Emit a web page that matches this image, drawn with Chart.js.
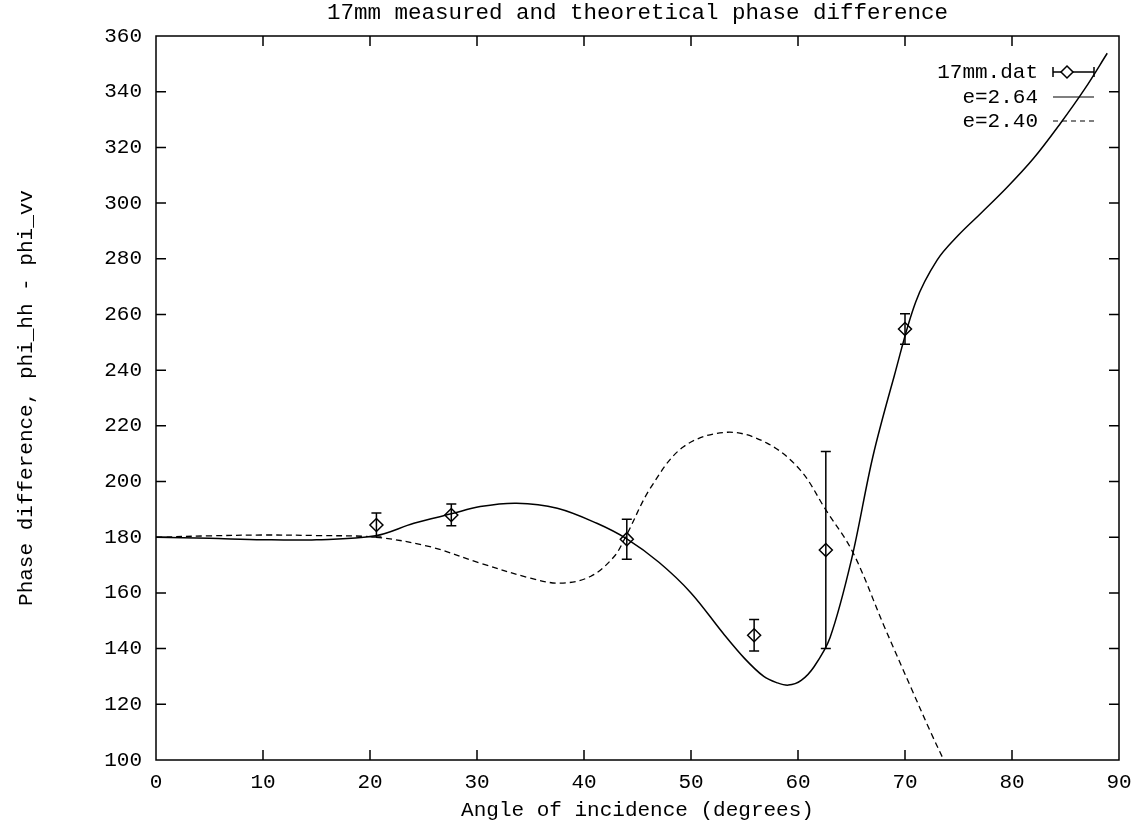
<!DOCTYPE html>
<html>
<head>
<meta charset="utf-8">
<title>17mm measured and theoretical phase difference</title>
<script src="https://cdn.jsdelivr.net/npm/chart.js@4/dist/chart.umd.min.js"></script>
<style>
  html, body { margin: 0; padding: 0; background: #fff; }
  #wrap { width: 1146px; height: 825px; }
</style>
</head>
<body>
<div id="wrap"><canvas id="chart" width="1146" height="825"></canvas></div>
<script>
// measured points (17mm.dat) with error
const ptX = [20.6, 27.6, 44.0, 55.9, 62.6, 70.0];
const ptY = [184.4, 188.0, 179.3, 144.8, 175.4, 254.8];
const ptErr = [4.3, 3.9, 7.2, 5.7, 35.4, 5.5];

// theory e=2.64 (solid)
const solidX = [0, 5, 10, 15, 20.5, 24.1, 27.6, 30.3, 33.7, 37.5, 41.2, 44.0, 47.0, 50.0, 53.0, 55.0, 56.8, 58.0, 59.1, 60.3, 61.5, 63.0, 65.0, 67.0, 69.0, 71.0, 73.0, 75.0, 77.0, 79.5, 82.0, 84.5, 86.8, 88.9];
const solidY = [180, 179.6, 179.1, 179.1, 180.5, 185.0, 188.4, 191.0, 192.2, 190.4, 185.0, 179.4, 171.0, 160.0, 145.5, 136.5, 130.0, 127.8, 126.9, 128.6, 133.5, 144.0, 172.0, 209.0, 238.0, 264.5, 279.5, 288.5, 296.0, 305.5, 316.0, 328.5, 341.0, 353.8];

// theory e=2.40 (dashed)
const dashX = [0, 5, 10, 15, 20.5, 25.6, 30.3, 35.0, 37.8, 40.6, 42.8, 44.0, 46.2, 49.3, 53.4, 57.1, 60.2, 62.6, 65.1, 68.0, 70.5, 72.4, 73.8];
const dashY = [180, 180.5, 180.8, 180.6, 180.0, 176.6, 170.7, 165.3, 163.5, 165.9, 173.0, 181.0, 197.6, 212.5, 217.7, 213.8, 204.2, 189.8, 174.8, 148.5, 126.5, 110.0, 98.5];

const xTicks = [0, 10, 20, 30, 40, 50, 60, 70, 80, 90];
const yTicks = [100, 120, 140, 160, 180, 200, 220, 240, 260, 280, 300, 320, 340, 360];

const legendLabels = ["17mm.dat", "e=2.64", "e=2.40"];
const titleText = "17mm measured and theoretical phase difference";
const xTitle = "Angle of incidence (degrees)";
const yTitle = "Phase difference, phi_hh - phi_vv";

const FONT = "21px 'Liberation Mono', 'DejaVu Sans Mono', monospace";
const TITLE_FONT = "22.5px 'Liberation Mono', 'DejaVu Sans Mono', monospace";

function toXY(xs, ys) {
  return xs.map((v, i) => ({ x: v, y: ys[i] }));
}

// error bars, inward ticks, frame, legend, titles (gnuplot look)
const gnuplotDeco = {
  id: "gnuplotDeco",
  afterDatasetsDraw(chart) {
    const { ctx, chartArea: a, scales } = chart;
    const sx = scales.x, sy = scales.y;
    ctx.save();
    ctx.strokeStyle = "#000";
    ctx.lineWidth = 1.5;

    // error bars
    ptX.forEach((v, i) => {
      const px = sx.getPixelForValue(v);
      const top = sy.getPixelForValue(ptY[i] + ptErr[i]);
      const bot = sy.getPixelForValue(ptY[i] - ptErr[i]);
      ctx.beginPath();
      ctx.moveTo(px, top); ctx.lineTo(px, bot);
      ctx.moveTo(px - 5, top); ctx.lineTo(px + 5, top);
      ctx.moveTo(px - 5, bot); ctx.lineTo(px + 5, bot);
      ctx.stroke();
    });

    // frame
    ctx.strokeRect(a.left, a.top, a.right - a.left, a.bottom - a.top);

    // ticks on all four sides, pointing in
    ctx.beginPath();
    xTicks.slice(1, -1).forEach((v) => {
      const px = sx.getPixelForValue(v);
      ctx.moveTo(px, a.bottom); ctx.lineTo(px, a.bottom - 10);
      ctx.moveTo(px, a.top); ctx.lineTo(px, a.top + 10);
    });
    yTicks.slice(1, -1).forEach((v) => {
      const py = sy.getPixelForValue(v);
      ctx.moveTo(a.left, py); ctx.lineTo(a.left + 10, py);
      ctx.moveTo(a.right, py); ctx.lineTo(a.right - 10, py);
    });
    ctx.stroke();

    // legend
    ctx.font = FONT;
    ctx.fillStyle = "#000";
    ctx.textAlign = "right";
    ctx.textBaseline = "middle";
    const rows = [72, 97, 121];
    const lx0 = 1053, lx1 = 1094;
    legendLabels.forEach((t, i) => ctx.fillText(t, 1038, rows[i]));

    ctx.lineWidth = 1.5;
    ctx.beginPath();
    ctx.moveTo(lx0, rows[0]); ctx.lineTo(lx1, rows[0]);
    ctx.moveTo(lx0, rows[0] - 5); ctx.lineTo(lx0, rows[0] + 5);
    ctx.moveTo(lx1, rows[0] - 5); ctx.lineTo(lx1, rows[0] + 5);
    ctx.stroke();
    ctx.beginPath();
    ctx.moveTo(1067, rows[0] - 6); ctx.lineTo(1073, rows[0]);
    ctx.lineTo(1067, rows[0] + 6); ctx.lineTo(1061, rows[0]);
    ctx.closePath();
    ctx.fillStyle = "#fff";
    ctx.fill();
    ctx.stroke();

    ctx.lineWidth = 1.2;
    ctx.beginPath();
    ctx.moveTo(lx0, rows[1]); ctx.lineTo(lx1, rows[1]);
    ctx.stroke();
    ctx.setLineDash([5, 4]);
    ctx.beginPath();
    ctx.moveTo(lx0, rows[2]); ctx.lineTo(lx1, rows[2]);
    ctx.stroke();
    ctx.setLineDash([]);

    // titles
    ctx.fillStyle = "#000";
    ctx.textAlign = "center";
    ctx.font = TITLE_FONT;
    ctx.fillText(titleText, (a.left + a.right) / 2, 13);
    ctx.font = FONT;
    ctx.fillText(xTitle, (a.left + a.right) / 2, 810);
    ctx.translate(26, (a.top + a.bottom) / 2);
    ctx.rotate(-Math.PI / 2);
    ctx.fillText(yTitle, 0, 0);
    ctx.restore();
  },
};

const ctx = document.getElementById("chart").getContext("2d");
new Chart(ctx, {
  type: "scatter",
  data: {
    datasets: [
      {
        label: legendLabels[0],
        data: toXY(ptX, ptY),
        showLine: false,
        pointStyle: "rectRot",
        pointRadius: 6.5,
        pointBorderWidth: 1.5,
        pointBorderColor: "#000",
        pointBackgroundColor: "rgba(0,0,0,0)",
      },
      {
        label: legendLabels[1],
        data: toXY(solidX, solidY),
        showLine: true,
        pointRadius: 0,
        borderColor: "#000",
        borderWidth: 1.5,
        tension: 0.35,
      },
      {
        label: legendLabels[2],
        data: toXY(dashX, dashY),
        showLine: true,
        pointRadius: 0,
        borderColor: "#000",
        borderWidth: 1.3,
        borderDash: [6, 4],
        tension: 0.35,
      },
    ],
  },
  options: {
    responsive: false,
    animation: false,
    layout: { padding: { top: 36, right: 27, left: 0, bottom: 0 } },
    plugins: {
      legend: { display: false },
      title: { display: false },
      tooltip: { enabled: false },
    },
    scales: {
      x: {
        type: "linear",
        min: 0,
        max: 90,
        afterFit: (s) => { s.height = 65; },
        afterBuildTicks: (s) => { s.ticks = xTicks.map((v) => ({ value: v })); },
        ticks: {
          color: "#000",
          padding: 10,
          maxRotation: 0,
          font: { family: "'Liberation Mono', monospace", size: 21 },
        },
        grid: { display: false, drawTicks: false },
        border: { display: false },
      },
      y: {
        type: "linear",
        min: 100,
        max: 360,
        afterFit: (s) => { s.width = 156; },
        afterBuildTicks: (s) => { s.ticks = yTicks.map((v) => ({ value: v })); },
        ticks: {
          color: "#000",
          padding: 14,
          font: { family: "'Liberation Mono', monospace", size: 21 },
        },
        grid: { display: false, drawTicks: false },
        border: { display: false },
      },
    },
  },
  plugins: [gnuplotDeco],
});
</script>
</body>
</html>
